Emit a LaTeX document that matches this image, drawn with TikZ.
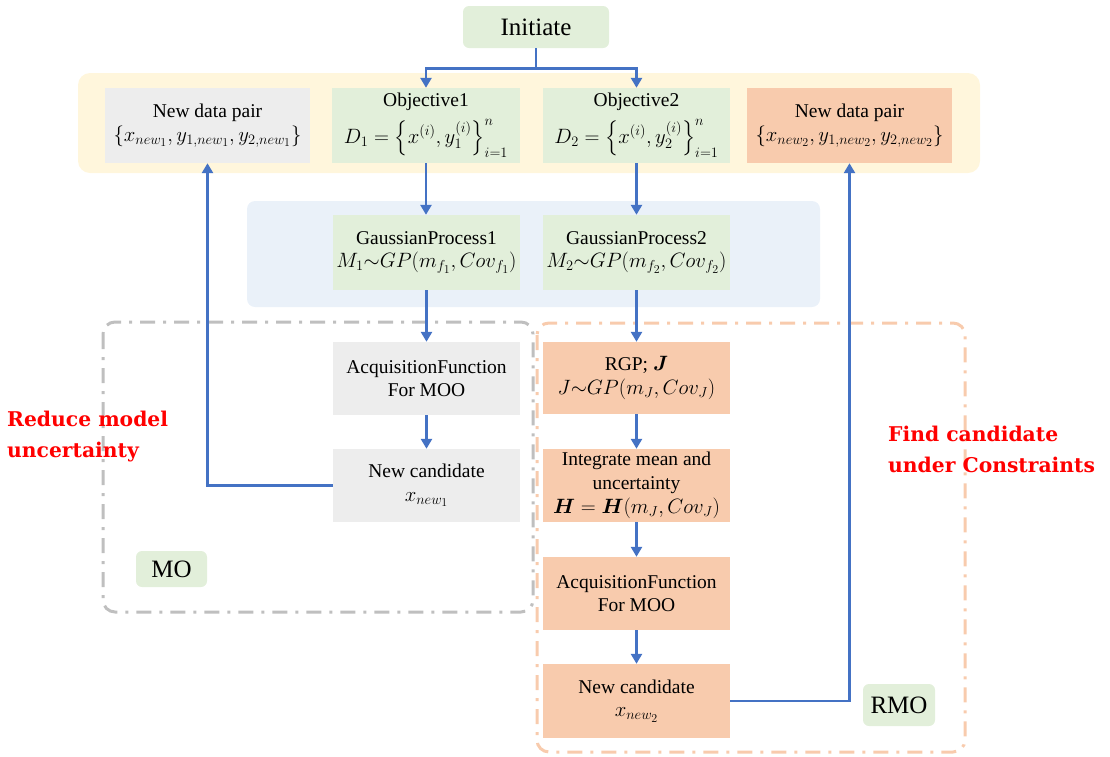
\documentclass[tikz,border=0pt]{standalone}
\usepackage{amsmath,amssymb}
\usepackage{fontspec}
\setmainfont{Liberation Serif}
\newfontfamily\labelfont{DejaVu Serif}
\DeclareMathSizes{19.5}{19.5}{14.5}{11.5}
\usetikzlibrary{arrows.meta}
\definecolor{boxgreen}{HTML}{E2EFDA}
\definecolor{boxgray}{HTML}{EDEDED}
\definecolor{boxorange}{HTML}{F8CBAD}
\definecolor{bgyellow}{HTML}{FFF6DC}
\definecolor{bgblue}{HTML}{EAF1F9}
\definecolor{linkblue}{HTML}{4472C4}
\definecolor{dashgray}{HTML}{BFBFBF}
\definecolor{dashorange}{HTML}{F8CBAD}
\begin{document}
\begin{tikzpicture}[x=1pt,y=-1pt,
  box/.style={minimum width=187pt, minimum height=73pt, align=center, inner sep=1pt,
    font=\fontsize{19.5}{23.5}\selectfont},
  greenbox/.style={box, fill=boxgreen},
  graybox/.style={box, fill=boxgray},
  orangebox/.style={box, fill=boxorange},
  tagbox/.style={fill=boxgreen, rounded corners=6pt, align=center, inner sep=0pt,
    font=\fontsize{25}{29}\selectfont},
  arr/.style={draw=linkblue, line width=2.8pt, -{Triangle[length=10pt,width=11pt]}},
  lnk/.style={draw=linkblue, line width=2.8pt},
  frame/.style={line width=3pt, rounded corners=12pt,
    dash pattern=on 15pt off 8pt on 3pt off 8pt},
  redlabel/.style={text=red, align=left, inner sep=0pt,
    font=\labelfont\bfseries\fontsize{20.3}{31}\selectfont}
]
\useasboundingbox (0,0) rectangle (1110,756);

% backgrounds
\fill[bgyellow, rounded corners=12pt] (78,73) rectangle (980,173);
\fill[bgblue, rounded corners=8pt] (247,201) rectangle (820,307);
\draw[frame, draw=dashgray] (103,322) rectangle (533,612);
\draw[frame, draw=dashorange] (537,323) rectangle (965,752);

% nodes
\node[tagbox, minimum width=146pt, minimum height=42pt] (init) at (536,27) {Initiate};

\node[graybox, minimum width=205pt, minimum height=75pt] (ndp1) at (207.5,125.5)
  {New data pair\\ $\{x_{new_1}, y_{1,new_1}, y_{2,new_1}\}$};
\node[greenbox, minimum width=188pt, minimum height=75pt, inner sep=0pt] (obj1) at (426,125.5)
  {Objective1\\[7pt] $D_1=\Bigl\{x^{(i)}, y_1^{(i)}\Bigr\}_{i=1}^{n}$};
\node[greenbox, minimum height=75pt, inner sep=0pt] (obj2) at (636.5,125.5)
  {Objective2\\[7pt] $D_2=\Bigl\{x^{(i)}, y_2^{(i)}\Bigr\}_{i=1}^{n}$};
\node[orangebox, minimum width=205pt, minimum height=75pt] (ndp2) at (849.5,125.5)
  {New data pair\\ $\{x_{new_2}, y_{1,new_2}, y_{2,new_2}\}$};

\node[greenbox, minimum height=75pt] (gp1) at (426.5,252.5)
  {GaussianProcess1\\ $M_1{\sim}GP(m_{f_1}, Cov_{f_1})$};
\node[greenbox, minimum height=75pt] (gp2) at (636.5,252.5)
  {GaussianProcess2\\ $M_2{\sim}GP(m_{f_2}, Cov_{f_2})$};

\node[graybox] (acq1) at (426.5,378.5) {AcquisitionFunction\\ For MOO};
\node[graybox] (nc1) at (426.5,485.5) {New candidate\\ $x_{new_1}$};

\node[orangebox, minimum height=72pt] (rgp) at (636.5,378)
  {RGP; $\boldsymbol{J}$\\ $J{\sim}GP(m_J, Cov_J)$};
\node[orangebox, font=\fontsize{19.5}{24}\selectfont] (integ) at (636.5,485.5)
  {Integrate mean and\\ uncertainty\\ $\boldsymbol{H}=\boldsymbol{H}(m_J, Cov_J)$};
\node[orangebox] (acq2) at (636.5,593.5) {AcquisitionFunction\\ For MOO};
\node[orangebox, minimum height=74pt] (nc2) at (636.5,701) {New candidate\\ $x_{new_2}$};

\node[tagbox, minimum width=71pt, minimum height=36pt] (mo) at (171.5,569) {MO};
\node[tagbox, minimum width=72pt, minimum height=42pt] (rmo) at (899,705) {RMO};

\node[redlabel, anchor=west] (lbl1) at (7,437) {Reduce model\\uncertainty};
\node[redlabel, anchor=west] (lbl2) at (888,449) {Find candidate\\under Constraints};

% connectors
\draw[lnk] (init.south) -- ++(0,20) coordinate (split);
\draw[arr] (split) -| (obj1.north);
\draw[arr] (split) -| (obj2.north);
\draw[arr] (obj1.south) -- (obj1.south |- gp1.north);
\draw[arr] (obj2.south) -- (gp2.north);
\draw[arr] (gp1.south) -- (acq1.north);
\draw[arr] (gp2.south) -- (rgp.north);
\draw[arr] (acq1.south) -- (nc1.north);
\draw[arr] (rgp.south) -- (integ.north);
\draw[arr] (integ.south) -- (acq2.north);
\draw[arr] (acq2.south) -- (nc2.north);
\draw[arr] (nc1.west) -| (ndp1.south);
\draw[arr] (nc2.east) -| (ndp2.south);
\end{tikzpicture}
\end{document}
